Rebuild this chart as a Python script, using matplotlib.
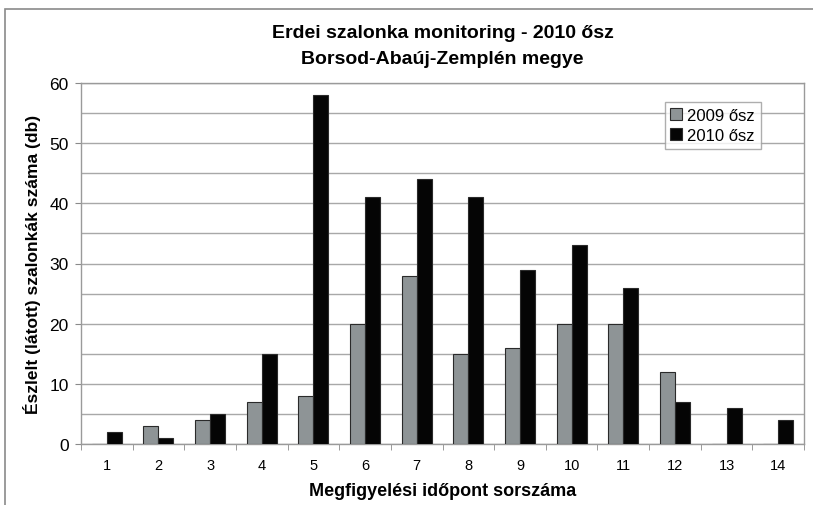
import numpy as np
import matplotlib
matplotlib.use("Agg")
import matplotlib.pyplot as plt
from matplotlib.patches import Rectangle

plt.rcParams['font.family'] = ['Liberation Sans', 'DejaVu Sans']

points = [str(i) for i in range(1, 15)]
autumn_2009 = [0, 3, 4, 7, 8, 20, 28, 15, 16, 20, 20, 12, 0, 0]
autumn_2010 = [2, 1, 5, 15, 58, 41, 44, 41, 29, 33, 26, 7, 6, 4]
series_names = ["2009 ősz", "2010 ősz"]

fig = plt.figure(figsize=(8.13, 5.06), dpi=100)
ax = fig.add_axes([81 / 813, 1 - 445 / 506, 723 / 813, 361 / 506])

# outer chart frame (top and left edges visible)
fig.patches.append(Rectangle((5 / 813, -0.1), 1.1, 1 - 10 / 506 + 0.1,
                             transform=fig.transFigure, fill=False,
                             edgecolor="#8a8a8a", linewidth=1.2))

x = np.arange(len(points))
w = 0.29
ax.bar(x - w / 2, autumn_2009, w, color="#8e9496", edgecolor="#2a2a2a",
       linewidth=0.8, label=series_names[0], zorder=3)
ax.bar(x + w / 2, autumn_2010, w, color="#050505", edgecolor="#2a2a2a",
       linewidth=0.8, label=series_names[1], zorder=3)

ax.set_xlim(-0.5, len(points) - 0.5)
ax.set_ylim(0, 60)
ax.set_yticks(range(0, 61, 10))
ax.set_yticks(range(5, 60, 10), minor=True)
ax.grid(axis="y", which="both", color="#a8a8a8", linewidth=1.0, zorder=0)
ax.set_xticks(x)
ax.set_xticklabels(points, fontsize=10.5)
ax.set_xticks(np.arange(-0.5, len(points), 1), minor=True)
ax.tick_params(axis="x", which="major", length=0, pad=10)
ax.tick_params(axis="x", which="minor", length=4, color="#8a8a8a")
ax.tick_params(axis="y", which="major", labelsize=12.5, length=4, color="#8a8a8a", pad=5)
ax.tick_params(axis="y", which="minor", length=0)

for side in ["top", "right", "bottom", "left"]:
    ax.spines[side].set_color("#9a9a9a")
    ax.spines[side].set_linewidth(1.0)

ax.set_xlabel("Megfigyelési időpont sorszáma", fontsize=13, fontweight="bold", labelpad=7)
ax.set_ylabel("Észlelt (látott) szalonkák száma (db)", fontsize=12.5,
              fontweight="bold", labelpad=6)

fig.text(0.5 * (81 + 804) / 813, 1 - 33 / 506, "Erdei szalonka monitoring - 2010 ősz",
         ha="center", va="center", fontsize=14, fontweight="bold")
fig.text(0.5 * (81 + 804) / 813, 1 - 59 / 506, "Borsod-Abaúj-Zemplén megye",
         ha="center", va="center", fontsize=14, fontweight="bold")

leg = ax.legend(loc="upper right", bbox_to_anchor=(0.94, 0.947), borderaxespad=0,
                fontsize=12, frameon=True, fancybox=False, handlelength=0.7,
                handleheight=0.7, handletextpad=0.3, borderpad=0.35, labelspacing=0.3)
leg.get_frame().set_edgecolor("#9a9a9a")
leg.get_frame().set_linewidth(1.0)

fig.savefig("out.png", dpi=100)
